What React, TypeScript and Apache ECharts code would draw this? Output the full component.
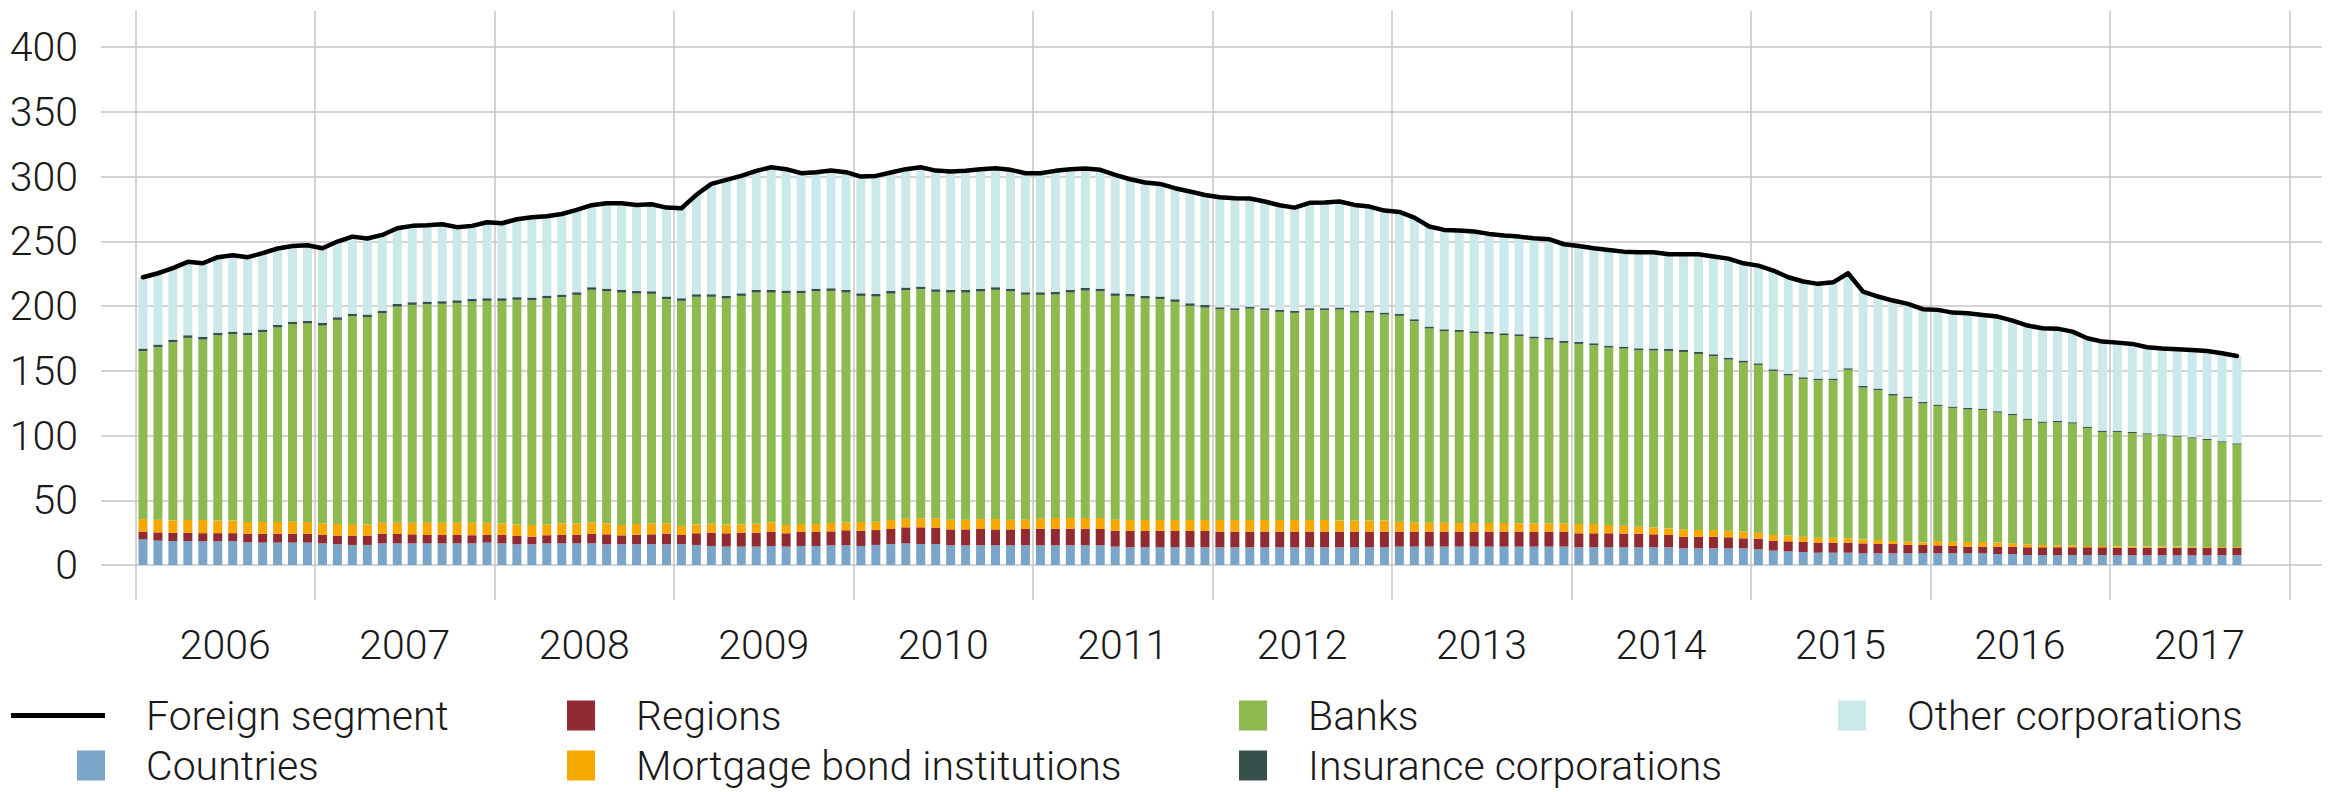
import React, { useEffect, useRef } from "react";
import * as echarts from "echarts";

const years = ["2006", "2007", "2008", "2009", "2010", "2011", "2012", "2013", "2014", "2015", "2016", "2017"];
const yTicks = [0, 50, 100, 150, 200, 250, 300, 350, 400];

const countries = [
  19.8, 18.8, 18.5, 18.5, 18.3, 18.3, 18.5, 17.5, 17.3, 17.3, 17.3, 17.3,
  16.7, 16.0, 15.5, 15.5, 16.7, 16.7, 16.7, 16.7, 16.7, 16.7, 16.7, 17.3,
  16.7, 16.0, 16.0, 16.7, 16.7, 16.7, 16.7, 16.0, 16.0, 16.0, 16.0, 16.0,
  16.2, 15.5, 14.7, 14.2, 14.2, 14.2, 14.7, 14.2, 14.7, 14.7, 15.2, 15.2,
  14.7, 15.5, 16.2, 16.7, 16.2, 16.2, 15.2, 15.2, 15.2, 15.2, 15.2, 15.2,
  15.2, 15.2, 15.2, 15.2, 15.2, 14.2, 13.7, 13.7, 13.7, 13.7, 13.7, 13.7,
  13.7, 13.7, 13.7, 13.7, 13.7, 13.7, 13.7, 13.7, 13.7, 13.7, 13.7, 13.7,
  14.2, 14.2, 14.2, 14.2, 14.2, 14.2, 14.2, 14.2, 14.2, 14.2, 14.2, 14.2,
  13.7, 13.7, 13.7, 13.7, 13.7, 13.7, 13.7, 12.9, 12.9, 12.9, 12.9, 12.9,
  12.1, 11.1, 10.6, 10.0, 9.5, 9.5, 9.5, 9.0, 9.0, 9.0, 9.0, 9.0,
  9.0, 9.0, 9.0, 9.0, 8.5, 8.5, 7.7, 7.7, 7.7, 7.7, 7.7, 7.7,
  7.5, 7.5, 7.5, 7.5, 7.5, 7.5, 7.5, 7.5, 7.5,
];

const regions = [
  6.0, 6.4, 6.4, 6.4, 6.3, 6.3, 6.1, 6.7, 6.9, 6.9, 6.9, 6.9,
  6.5, 6.7, 7.2, 7.2, 7.5, 7.3, 7.0, 6.5, 6.5, 6.5, 6.3, 5.9,
  6.5, 6.4, 5.9, 6.3, 6.5, 6.7, 7.5, 7.7, 6.9, 7.4, 7.7, 8.2,
  7.0, 9.0, 10.3, 10.3, 10.8, 10.8, 11.1, 10.3, 10.8, 10.8, 10.8, 11.6,
  11.8, 11.5, 11.6, 12.4, 12.9, 12.6, 12.3, 12.3, 12.6, 12.3, 12.3, 12.6,
  12.9, 12.9, 12.9, 12.9, 12.6, 12.3, 12.6, 12.6, 12.6, 12.6, 12.6, 12.6,
  12.1, 12.1, 12.1, 12.1, 12.1, 12.1, 12.1, 12.1, 12.1, 12.1, 12.1, 12.1,
  11.6, 11.6, 11.6, 11.6, 11.6, 11.6, 11.6, 11.6, 11.6, 11.6, 11.6, 11.6,
  10.8, 10.8, 10.8, 10.5, 10.5, 10.0, 9.5, 9.0, 9.0, 9.0, 8.5, 7.7,
  8.3, 7.7, 7.7, 7.8, 7.8, 7.8, 7.8, 7.7, 7.2, 7.2, 6.5, 6.5,
  6.2, 5.7, 5.2, 5.2, 5.7, 5.7, 6.0, 6.0, 6.0, 6.0, 6.0, 6.0,
  5.9, 5.9, 5.9, 5.9, 5.9, 5.9, 5.9, 5.9, 5.9,
];

const mortgage = [
  9.7, 9.8, 9.6, 9.9, 10.2, 9.7, 9.7, 9.0, 9.0, 9.0, 9.3, 9.0,
  9.0, 9.0, 9.0, 8.7, 8.5, 8.7, 9.0, 9.5, 9.5, 9.5, 9.7, 9.5,
  9.0, 9.0, 9.0, 8.4, 9.0, 8.8, 8.8, 8.5, 8.0, 8.3, 8.5, 8.0,
  7.2, 6.9, 6.9, 6.7, 6.4, 6.9, 7.2, 6.4, 6.2, 6.2, 6.5, 6.2,
  6.7, 6.5, 7.0, 6.7, 7.0, 7.3, 7.5, 7.5, 7.7, 8.0, 7.5, 7.2,
  7.7, 8.2, 8.2, 8.2, 8.5, 8.5, 8.5, 8.5, 8.5, 8.5, 8.5, 8.5,
  9.0, 9.0, 9.0, 9.0, 9.0, 9.0, 9.0, 9.0, 8.5, 8.5, 8.5, 8.5,
  7.7, 7.1, 6.9, 6.9, 6.7, 6.7, 6.7, 6.7, 6.4, 6.4, 6.4, 6.4,
  7.2, 7.2, 6.4, 6.2, 5.4, 5.4, 5.1, 5.6, 5.1, 5.1, 5.1, 5.2,
  4.6, 4.4, 4.4, 4.1, 3.8, 3.8, 3.3, 3.1, 3.1, 2.3, 2.5, 2.0,
  3.3, 3.3, 3.6, 3.6, 3.1, 2.5, 2.3, 1.8, 1.5, 1.5, 1.0, 1.0,
  1.0, 1.0, 1.0, 0.8, 0.8, 0.8, 0.5, 0.5, 0.5,
];

const banks = [
  129.7, 133.3, 137.6, 140.7, 139.4, 143.2, 144.0, 144.3, 146.7, 150.3, 152.5, 153.4,
  152.8, 157.7, 160.5, 160.1, 161.8, 167.0, 168.3, 168.8, 169.1, 169.8, 170.9, 171.4,
  171.9, 173.5, 173.7, 174.7, 174.7, 176.5, 179.6, 179.3, 179.6, 178.0, 177.3, 173.2,
  173.7, 175.8, 175.3, 174.7, 176.5, 178.6, 177.5, 179.1, 178.3, 179.8, 179.3, 177.5,
  174.7, 173.9, 174.9, 176.5, 177.0, 174.9, 175.5, 175.5, 175.8, 177.1, 176.5, 173.7,
  172.9, 172.7, 174.2, 175.7, 175.2, 172.9, 172.6, 171.1, 170.6, 168.5, 165.4, 164.1,
  162.8, 162.1, 163.3, 162.1, 160.8, 160.0, 162.1, 162.1, 163.1, 160.7, 160.7, 159.2,
  159.0, 155.5, 150.0, 147.9, 147.6, 146.6, 146.1, 145.0, 144.6, 142.8, 142.0, 139.4,
  139.1, 138.1, 137.1, 136.8, 136.3, 136.6, 137.1, 137.1, 136.1, 134.3, 132.2, 130.6,
  129.6, 126.8, 123.7, 121.9, 121.7, 121.7, 130.2, 117.3, 115.8, 112.4, 110.9, 107.3,
  104.4, 103.4, 102.5, 102.0, 100.5, 99.0, 96.1, 94.3, 95.1, 94.1, 91.2, 88.1,
  88.4, 87.6, 86.6, 86.0, 85.0, 83.7, 82.7, 80.9, 79.3,
];

const insurance = [
  2.0, 2.0, 2.0, 2.0, 2.0, 2.0, 2.0, 2.0, 2.0, 2.0, 2.0, 2.0,
  2.0, 2.0, 2.0, 2.0, 2.0, 2.0, 2.0, 2.0, 2.0, 2.0, 2.0, 2.0,
  2.0, 2.0, 2.0, 2.0, 2.0, 2.0, 2.0, 2.0, 2.0, 2.0, 2.0, 2.0,
  2.0, 2.0, 2.0, 2.0, 2.0, 2.0, 2.0, 2.0, 2.0, 2.0, 2.0, 2.0,
  2.0, 2.0, 2.0, 2.0, 2.0, 2.0, 2.0, 2.0, 2.0, 2.0, 2.0, 2.0,
  2.0, 2.0, 2.0, 2.0, 2.0, 2.0, 2.0, 2.0, 2.0, 2.0, 2.0, 2.0,
  1.5, 1.5, 1.5, 1.5, 1.5, 1.5, 1.5, 1.5, 1.5, 1.5, 1.5, 1.5,
  1.5, 1.5, 1.5, 1.5, 1.5, 1.5, 1.5, 1.5, 1.5, 1.5, 1.5, 1.5,
  1.5, 1.5, 1.5, 1.5, 1.5, 1.5, 1.5, 1.5, 1.5, 1.5, 1.5, 1.5,
  1.2, 1.2, 1.2, 1.2, 1.2, 1.2, 1.2, 1.2, 1.2, 1.2, 1.2, 1.2,
  1.0, 1.0, 1.0, 1.0, 1.0, 1.0, 1.0, 1.0, 1.0, 1.0, 1.0, 1.0,
  0.8, 0.8, 0.8, 0.8, 0.8, 0.8, 0.8, 0.8, 0.8,
];

const otherCorporations = [
  55.1, 55.1, 55.2, 56.7, 56.9, 58.3, 59.0, 58.3, 59.0, 59.0, 58.5, 58.4,
  57.7, 58.5, 59.5, 58.7, 58.5, 58.5, 59.0, 59.0, 59.5, 56.5, 56.4, 58.7,
  57.9, 60.2, 62.1, 61.3, 62.3, 63.6, 63.4, 66.0, 67.0, 66.5, 67.2, 68.7,
  69.5, 76.8, 85.2, 89.6, 90.7, 92.0, 94.8, 93.8, 90.7, 90.0, 90.9, 91.0,
  90.2, 91.2, 91.5, 91.5, 92.2, 91.7, 91.5, 92.0, 92.5, 91.9, 91.8, 92.0,
  92.0, 93.5, 93.3, 92.3, 91.8, 91.5, 88.6, 87.6, 87.0, 85.8, 86.3, 85.0,
  85.0, 85.0, 83.5, 82.4, 80.8, 79.8, 81.4, 81.6, 81.9, 81.7, 80.4, 78.8,
  78.8, 78.5, 77.3, 76.8, 76.8, 77.0, 75.7, 75.5, 75.4, 75.9, 76.0, 74.7,
  74.2, 73.4, 73.9, 73.4, 74.2, 74.4, 73.2, 74.0, 75.5, 75.5, 76.5, 75.2,
  75.5, 76.3, 74.7, 74.0, 73.2, 74.4, 73.4, 72.9, 71.1, 72.2, 71.6, 71.6,
  73.2, 72.6, 73.2, 72.4, 73.1, 72.1, 71.9, 72.1, 71.3, 70.0, 68.3, 68.8,
  68.2, 68.0, 66.4, 66.2, 66.7, 67.4, 68.0, 68.0, 67.5,
];

const foreignSegment = [
  222.3, 225.4, 229.3, 234.2, 233.1, 237.8, 239.3, 237.8, 240.9, 244.5, 246.5, 247.0,
  244.7, 249.9, 253.7, 252.2, 255.0, 260.2, 262.0, 262.5, 263.3, 261.0, 262.0, 264.8,
  264.0, 267.1, 268.7, 269.4, 271.2, 274.3, 278.0, 279.5, 279.5, 278.2, 278.7, 276.1,
  275.6, 286.0, 294.4, 297.5, 300.6, 304.5, 307.3, 305.8, 302.7, 303.5, 304.7, 303.5,
  300.1, 300.6, 303.2, 305.8, 307.3, 304.7, 304.0, 304.5, 305.8, 306.5, 305.3, 302.7,
  302.7, 304.5, 305.8, 306.3, 305.3, 301.4, 298.0, 295.5, 294.4, 291.1, 288.5, 285.9,
  284.1, 283.4, 283.1, 280.8, 277.9, 276.1, 279.8, 280.0, 280.8, 278.2, 276.9, 273.8,
  272.8, 268.4, 261.5, 258.9, 258.4, 257.6, 255.8, 254.5, 253.7, 252.4, 251.7, 247.8,
  246.5, 244.7, 243.4, 242.1, 241.6, 241.6, 240.1, 240.1, 240.1, 238.3, 236.7, 233.1,
  231.3, 227.5, 222.3, 219.0, 217.2, 218.4, 225.4, 211.2, 207.4, 204.3, 201.7, 197.6,
  197.1, 195.0, 194.5, 193.2, 191.9, 188.8, 185.0, 182.9, 182.6, 180.3, 175.2, 172.6,
  171.8, 170.8, 168.2, 167.2, 166.7, 166.1, 165.4, 163.6, 161.5,
];

const categories = years.flatMap((y) =>
  Array.from({ length: 12 }, (_, m) => `${y}-${String(m + 1).padStart(2, "0")}`)
);

const FONT = "Roboto";
const TEXT_COLOR = "#1a1a1a";
const GRID_COLOR = "#c6c6c6";

const barSeries = [
  { name: "Countries", data: countries, color: "#7ba4c9" },
  { name: "Regions", data: regions, color: "#922a31" },
  { name: "Mortgage bond institutions", data: mortgage, color: "#f7a800" },
  { name: "Banks", data: banks, color: "#8cba4f" },
  { name: "Insurance corporations", data: insurance, color: "#37504c" },
  { name: "Other corporations", data: otherCorporations, color: "#cbe8ea" },
];

const legendLayout: { name: string; left: number; top: number; line?: boolean }[] = [
  { name: "Foreign segment", left: 11, top: 695, line: true },
  { name: "Countries", left: 77, top: 745 },
  { name: "Regions", left: 567, top: 695 },
  { name: "Mortgage bond institutions", left: 567, top: 745 },
  { name: "Banks", left: 1239, top: 695 },
  { name: "Insurance corporations", left: 1239, top: 745 },
  { name: "Other corporations", left: 1838, top: 695 },
];

export default function App() {
  const ref = useRef<HTMLDivElement>(null);

  useEffect(() => {
    if (!ref.current) return;
    const chart = echarts.init(ref.current, undefined, { renderer: "svg" });

    const option: any = {
      animation: false,
      backgroundColor: "#ffffff",
      textStyle: { fontFamily: FONT, fontWeight: 300 },
      grid: [
        { left: 101, right: 16, top: 47.2, bottom: 227 },
        { left: 135.5, right: 48.7, top: 11, bottom: 192 },
      ],
      xAxis: [
        { type: "value", gridIndex: 0, show: false, min: 0, max: 1 },
        {
          type: "category",
          gridIndex: 1,
          data: categories,
          boundaryGap: true,
          axisLine: { show: false, onZero: false },
          axisTick: { show: false },
          splitLine: {
            show: true,
            interval: (index: number) => index % 12 === 0,
            lineStyle: { color: GRID_COLOR, width: 1.5 },
          },
          axisLabel: {
            interval: (index: number) => index % 12 === 6,
            formatter: (value: string) => value.slice(0, 4),
            margin: 24,
            fontFamily: FONT,
            fontWeight: 300,
            fontSize: 41,
            lineHeight: 41,
            color: TEXT_COLOR,
            padding: [0, 15, 0, 0],
          },
        },
      ],
      yAxis: [
        {
          type: "value",
          gridIndex: 0,
          min: yTicks[0],
          max: yTicks[yTicks.length - 1],
          interval: 50,
          axisLine: { show: false },
          axisTick: { show: false },
          splitLine: { show: true, lineStyle: { color: GRID_COLOR, width: 1.5 } },
          axisLabel: {
            margin: 23,
            fontFamily: FONT,
            fontWeight: 300,
            fontSize: 41,
            color: TEXT_COLOR,
          },
        },
        { type: "value", gridIndex: 1, min: -27.04, max: 428, show: false },
      ],
      legend: legendLayout.map((l) => ({
        data: [l.name],
        left: l.left,
        top: l.top,
        padding: 0,
        itemWidth: l.line ? 94 : 28,
        itemHeight: l.line ? 5 : 30,
        selectedMode: false,
        icon: "rect",
        textStyle: {
          fontFamily: FONT,
          fontWeight: 300,
          fontSize: 41,
          lineHeight: 30,
          color: TEXT_COLOR,
          padding: [0, 0, 0, 36],
        },
      })),
      series: [
        ...barSeries.map((s) => ({
          name: s.name,
          type: "bar",
          stack: "total",
          xAxisIndex: 1,
          yAxisIndex: 1,
          barWidth: 9,
          data: s.data,
          itemStyle: { color: s.color },
          emphasis: { disabled: true },
        })),
        {
          name: "Foreign segment",
          type: "line",
          xAxisIndex: 1,
          yAxisIndex: 1,
          data: foreignSegment,
          symbol: "none",
          color: "#000000",
          itemStyle: { color: "#000000" },
          lineStyle: { color: "#000000", width: 4.5, join: "round", cap: "round" },
          z: 10,
          emphasis: { disabled: true },
        },
      ],
    };

    chart.setOption(option);
    return () => chart.dispose();
  }, []);

  return (
    <div
      ref={ref}
      style={{ position: "absolute", left: 0, top: 0, width: 2338, height: 792 }}
    />
  );
}
